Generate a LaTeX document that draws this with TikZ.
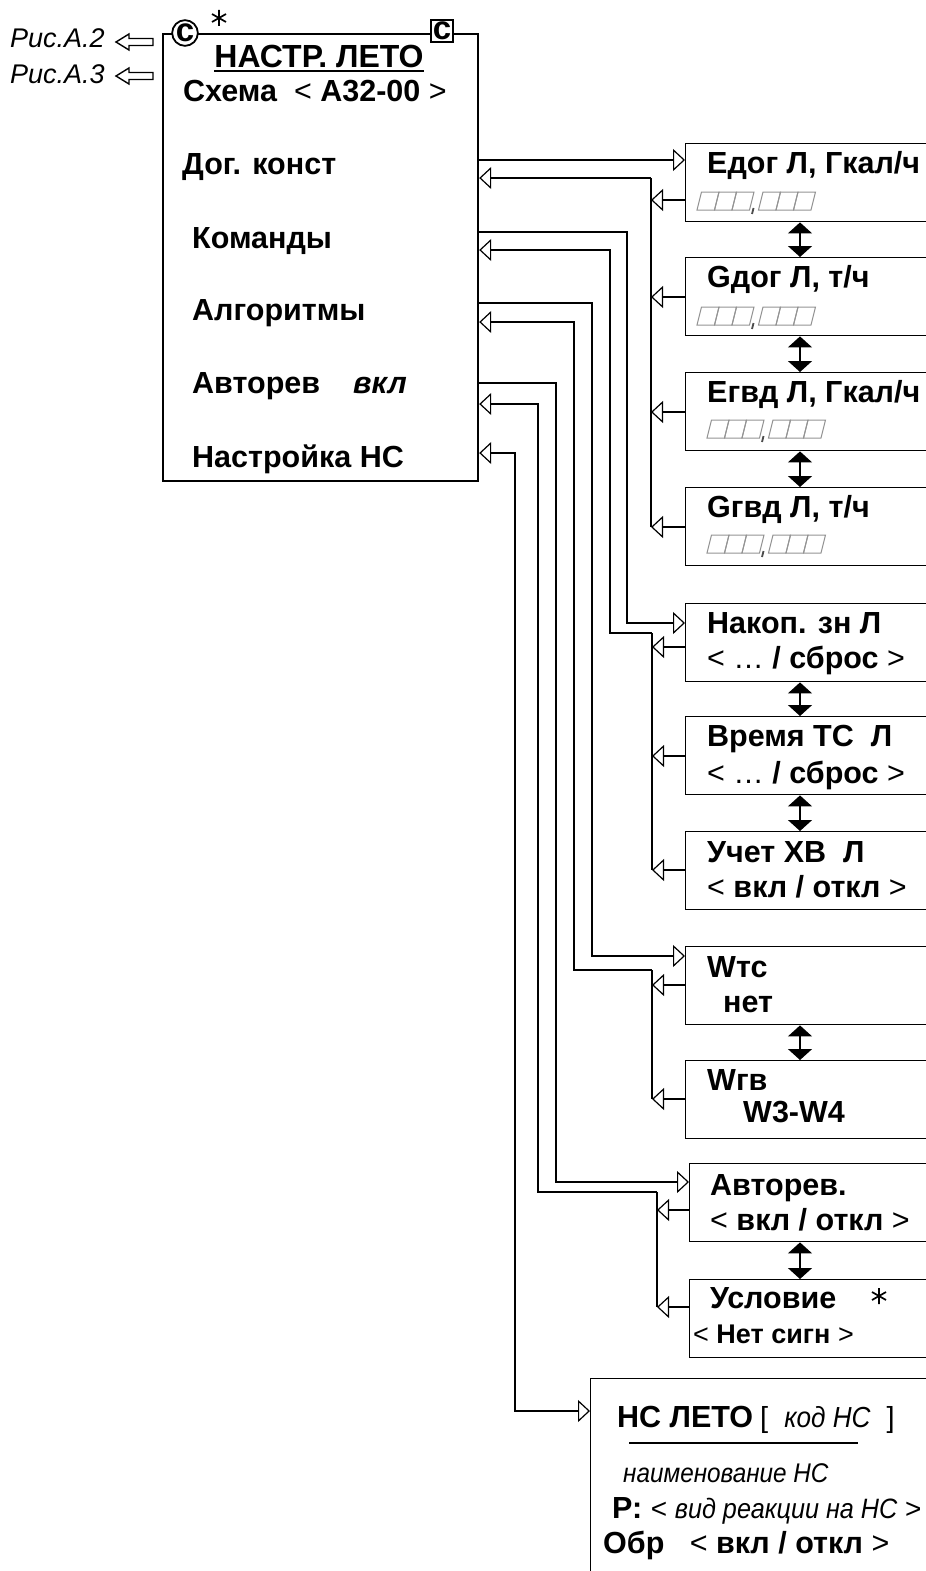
\documentclass[tikz,border=0pt]{standalone}
\usepackage{fontspec}
\setmainfont{Liberation Sans}
\newfontfamily\uzkiy[FakeStretch=0.9]{Liberation Sans}
\usetikzlibrary{arrows.meta}

\tikzset{
  okno/.style={draw, line width=1.4pt, anchor=north west, minimum width=270pt, minimum height=78pt, inner sep=0pt},
  tekst/.style={anchor=base west, inner sep=0pt, font=\fontsize{30.5}{33}\selectfont\bfseries},
  ris/.style={anchor=base west, inner sep=0pt, font=\fontsize{27}{30}\selectfont\itshape},
  razrst/.style={gray!85, line width=1pt},
  strelka/.style={line width=1.2pt, -{Triangle[open, length=12pt, width=22pt, line width=1.2pt]}},
  strelki/.style={line width=1.2pt, {Triangle[open, length=12pt, width=22pt, line width=1.2pt]}-{Triangle[open, length=12pt, width=22pt, line width=1.2pt]}},
  shina/.style={line width=2.2pt},
  dvoyn/.style={line width=1.5pt, {Triangle[length=11pt, width=24pt]}-{Triangle[length=11pt, width=24pt]}},
  znak/.style={draw, fill=white, line width=1.8pt, inner sep=0pt, font=\fontsize{33}{33}\selectfont\bfseries},
}

% поле цифр ###,###
\newcommand{\razr}[2]{%
  \foreach \k in {0,1,2}{
    \draw[razrst] (#1+\k*17.5,#2) -- ++(17.5,0) -- ++(4.5,-18) -- ++(-17.5,0) -- cycle;
    \draw[razrst] (#1+61.5+\k*17.5,#2) -- ++(17.5,0) -- ++(4.5,-18) -- ++(-17.5,0) -- cycle;
  }
  \draw[line width=1.8pt, gray!60!black] (#1+56.5,#2-2) -- (#1+55,#2+4);
}
\newcommand{\zvezda}[1]{\draw[line width=1.7pt] #1 ++(0,-8) -- ++(0,16) #1 ++(-7,-4) -- ++(14,8) #1 ++(-7,4) -- ++(14,-8);}
\newcommand{\pustaya}[1]{\draw[line width=1.4pt] #1 -- ++(13,-8) -- ++(0,4.5) -- ++(24,0) -- ++(0,7) -- ++(-24,0) -- ++(0,4.5) -- cycle;}

\begin{document}
\begin{tikzpicture}[x=1pt, y=-1pt]
\useasboundingbox (0,0) rectangle (926,1571);
\clip (0,0) rectangle (926,1571);

% Главное окно
\node[okno, line width=2.2pt, minimum width=315pt, minimum height=447pt] (glav) at (162,33) {};
\node[znak, circle, minimum size=25pt] (krug) at (185,33) {c};
\node[znak, minimum size=22pt] (kvadr) at (442,31) {c};
\zvezda{(219,18)}
\node[tekst, anchor=base, font=\fontsize{32}{34}\selectfont\bfseries] (zag) at (319,67) {НАСТР. ЛЕТО};
\draw[line width=1.8pt] ([yshift=-4pt]zag.base west) -- ([yshift=-4pt]zag.base east);
\node[tekst] (shema) at (183,101) {Схема\ \ {\mdseries<} А32-00 {\mdseries>}};
\node[tekst] (dog) at (182,174) {Дог. конст};
\node[tekst] (kom) at (192,248) {Команды};
\node[tekst] (alg) at (192,320) {Алгоритмы};
\node[tekst] (avt) at (192,393) {Авторев};
\node[tekst] (avtv) at (353,393) {\itshape вкл};
\node[tekst] (nas) at (192,467) {Настройка НС};

% Ссылки
\node[ris] (ris2) at (10,48) {Рис.А.2};
\node[ris] (ris3) at (10,83) {Рис.А.3};
\pustaya{(116,42)}
\pustaya{(116,76)}

% Окна справа
\node[okno] (edog) at (685,143) {};
\node[tekst] (edogt) at ([shift={(22,30)}]edog.north west) {Едог Л, Гкал/ч};
\razr{697}{210}
\node[okno] (gdog) at (685,257) {};
\node[tekst] (gdogt) at ([shift={(22,30)}]gdog.north west) {Gдог Л, т/ч};
\razr{697}{325}
\node[okno] (egvd) at (685,372) {};
\node[tekst] (egvdt) at ([shift={(22,30)}]egvd.north west) {Егвд Л, Гкал/ч};
\razr{707}{438}
\node[okno] (ggvd) at (685,487) {};
\node[tekst] (ggvdt) at ([shift={(22,30)}]ggvd.north west) {Gгвд Л, т/ч};
\razr{707}{553}

\node[okno] (nakop) at (685,603) {};
\node[tekst] (nakopt) at ([shift={(22,30)}]nakop.north west) {Накоп. зн Л};
\node[tekst] (nakopz) at ([shift={(22,65)}]nakop.north west) {{\mdseries< … }/ сброс {\mdseries>}};
\node[okno] (vrem) at (685,716) {};
\node[tekst] (vremt) at ([shift={(22,30)}]vrem.north west) {Время ТС\ \ Л};
\node[tekst] (vremz) at ([shift={(22,67)}]vrem.north west) {{\mdseries< … }/ сброс {\mdseries>}};
\node[okno] (uchet) at (685,831) {};
\node[tekst] (uchett) at ([shift={(22,31)}]uchet.north west) {Учет ХВ\ \ Л};
\node[tekst] (uchetz) at ([shift={(22,66)}]uchet.north west) {{\mdseries<} вкл / откл {\mdseries>}};

\node[okno] (wtc) at (685,946) {};
\node[tekst] (wtct) at ([shift={(22,31)}]wtc.north west) {Wтс};
\node[tekst] (wtcz) at ([shift={(38,66)}]wtc.north west) {нет};
\node[okno] (wgv) at (685,1060) {};
\node[tekst] (wgvt) at ([shift={(22,30)}]wgv.north west) {Wгв};
\node[tekst] (wgvz) at ([shift={(58,62)}]wgv.north west) {W3-W4};

\node[okno] (avtr) at (689,1163) {};
\node[tekst] (avtrt) at ([shift={(21,32)}]avtr.north west) {Авторев.};
\node[tekst] (avtrz) at ([shift={(21,67)}]avtr.north west) {{\mdseries<} вкл / откл {\mdseries>}};
\node[okno] (uslov) at (689,1279) {};
\node[tekst] (uslovt) at ([shift={(21,29)}]uslov.north west) {Условие};
\zvezda{(879,1296)}
\node[tekst, font=\fontsize{27}{30}\selectfont\bfseries] (uslovz) at ([shift={(4,64)}]uslov.north west) {{\mdseries<} Нет сигн {\mdseries>}};

\node[okno, minimum width=400pt, minimum height=260pt] (ns) at (590,1378) {};
\node[tekst] (nst) at (617,1427) {НС ЛЕТО};
\node[tekst, font=\fontsize{29}{32}\selectfont] (nsk) at (760,1427) {[\ \ {\uzkiy\itshape код НС}\ \ ]};
\draw[line width=2pt] (629,1443) -- (858,1443);
\node[tekst, font=\fontsize{27}{30}\selectfont\uzkiy\itshape] (nsn) at (623,1482) {наименование НС};
\node[tekst] (nsp) at (612,1518) {Р: {\mdseries\fontsize{28}{30}\selectfont< {\uzkiy\itshape вид реакции на НС} >}};
\node[tekst] (nso) at (603,1553) {Обр\ \ \ {\mdseries<} вкл / откл {\mdseries>}};

% Дог. конст
\draw[strelka] (glav.east |- 0,160) -- (edog.west |- 0,160);
\draw[shina] (651,178) -- (651,527);
\draw[strelka] (651,178) -- (glav.east |- 0,178);
\foreach \b/\y in {edog/200, gdog/297, egvd/412, ggvd/527}
  \draw[strelka] (\b.west |- 0,\y) -- (651,\y);

% Команды
\draw[strelka] (glav.east |- 0,232) -| (627,623) -- (nakop.west |- 0,623);
\draw[shina] (652,633) -- (652,870);
\draw[strelka] (652,633) -- (610,633) |- (glav.east |- 0,250);
\foreach \b/\y in {nakop/647, vrem/756, uchet/870}
  \draw[strelka] (\b.west |- 0,\y) -- (652,\y);

% Алгоритмы
\draw[strelka] (glav.east |- 0,303) -| (592,956) -- (wtc.west |- 0,956);
\draw[shina] (652,970) -- (652,1099);
\draw[strelka] (652,970) -- (574,970) |- (glav.east |- 0,322);
\foreach \b/\y in {wtc/985, wgv/1099}
  \draw[strelka] (\b.west |- 0,\y) -- (652,\y);

% Авторев
\draw[strelka] (glav.east |- 0,383) -| (556,1182) -- (avtr.west |- 0,1182);
\draw[shina] (657,1192) -- (657,1307);
\draw[strelka] (657,1192) -- (538,1192) |- (glav.east |- 0,404);
\foreach \b/\y in {avtr/1210, uslov/1307}
  \draw[strelka] (\b.west |- 0,\y) -- (657,\y);

% Настройка НС
\draw[strelki] (glav.east |- 0,453) -| (515,1411) -- (ns.west |- 0,1411);

% Переходы между окнами
\foreach \a/\b in {edog/gdog, gdog/egvd, egvd/ggvd, nakop/vrem, vrem/uchet, wtc/wgv, avtr/uslov}
  \draw[dvoyn] (\a.south -| 800,0) -- (\b.north -| 800,0);
\end{tikzpicture}
\end{document}
